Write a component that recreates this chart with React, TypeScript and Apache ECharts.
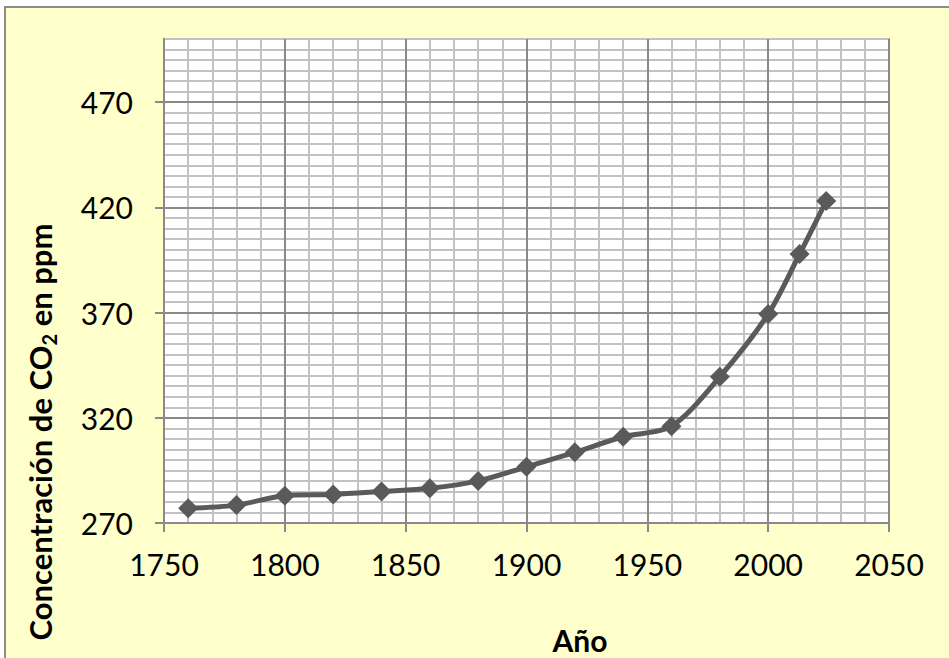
import React, { useEffect, useRef } from 'react';
import * as echarts from 'echarts';

const years = [1760, 1780, 1800, 1820, 1840, 1860, 1880, 1900, 1920, 1940, 1960, 1980, 2000, 2013, 2024];
const co2 = [277, 278.5, 283, 283.6, 285, 286.5, 290, 296.7, 303.6, 311, 316, 339.5, 369.3, 397.8, 423];
const yTickValues = [270, 320, 370, 420, 470];
const xTitle = 'Año';
const yTitleParts = ['Concentración de CO', '2', ' en ppm'];

const FONT = 'Lato, "Noto Sans", sans-serif';
const MAJOR = '#8a8a8a';
const MINOR = '#c2c2c2';

export default function App() {
  const ref = useRef<HTMLDivElement>(null);
  useEffect(() => {
    if (!ref.current) return;
    const chart = echarts.init(ref.current, null, { renderer: 'svg' });
    const data = years.map((y, i) => [y, co2[i]]);
    chart.setOption({
      animation: false,
      graphic: [
        {
          type: 'rect',
          z: -10,
          silent: true,
          shape: { x: 5, y: 7, width: 1200, height: 900 },
          style: { fill: '#FFFFCC', stroke: '#8c8c8c', lineWidth: 2 },
        },
        {
          type: 'text',
          z: 10,
          x: 580,
          y: 640,
          style: {
            text: xTitle,
            font: `bold 30px ${FONT}`,
            fill: '#000',
            align: 'center',
            verticalAlign: 'middle',
          },
        },
        {
          type: 'text',
          z: 10,
          x: 40,
          y: 432,
          rotation: Math.PI / 2,
          style: {
            text: `{a|${yTitleParts[0]}}{s|${yTitleParts[1]}}{a|${yTitleParts[2]}}`,
            align: 'center',
            verticalAlign: 'middle',
            fill: '#000',
            rich: {
              a: { fontFamily: FONT, fontWeight: 'bold', fontSize: 31, lineHeight: 38, fill: '#000' },
              s: { fontFamily: FONT, fontWeight: 'bold', fontSize: 20, lineHeight: 38, verticalAlign: 'bottom', fill: '#000', padding: [9, 0, 0, 0] },
            },
          },
        },
      ],
      grid: {
        left: 164,
        top: 39,
        width: 725,
        height: 484,
        show: true,
        backgroundColor: '#ffffff',
        borderColor: MAJOR,
        borderWidth: 2,
      },
      xAxis: [
        {
          type: 'value',
          min: 1750,
          max: 2050,
          interval: 50,
          z: 1,
          axisLine: { show: true, lineStyle: { color: MAJOR, width: 2 } },
          axisTick: { show: true, inside: false, length: 9, lineStyle: { color: MAJOR, width: 2 } },
          axisLabel: { color: '#000', fontFamily: FONT, fontSize: 30, margin: 26, formatter: (v: number) => String(v) },
          splitLine: { show: true, lineStyle: { color: MAJOR, width: 2 } },
        },
        {
          type: 'value',
          min: 1750,
          max: 2050,
          interval: 10,
          z: 0,
          position: 'bottom',
          axisLine: { show: false },
          axisTick: { show: false },
          axisLabel: { show: false },
          splitLine: { show: true, lineStyle: { color: MINOR, width: 2 } },
        },
      ],
      yAxis: [
        {
          type: 'value',
          min: 270,
          max: 500,
          interval: 50,
          z: 1,
          axisLine: { show: true, lineStyle: { color: MAJOR, width: 2 } },
          axisTick: { show: true, inside: false, length: 9, customValues: yTickValues, lineStyle: { color: MAJOR, width: 2 } },
          axisLabel: { color: '#000', fontFamily: FONT, fontSize: 30, margin: 31, customValues: yTickValues, formatter: (v: number) => String(v) },
          splitLine: { show: true, lineStyle: { color: MAJOR, width: 2 } },
        },
        {
          type: 'value',
          min: 270,
          max: 500,
          interval: 5,
          z: 0,
          position: 'left',
          axisLine: { show: false },
          axisTick: { show: false },
          axisLabel: { show: false },
          splitLine: { show: true, lineStyle: { color: MINOR, width: 2 } },
        },
      ],
      series: [
        {
          type: 'line',
          data,
          xAxisIndex: 0,
          yAxisIndex: 0,
          smooth: 0.3,
          symbol: 'diamond',
          symbolSize: 20,
          lineStyle: { color: '#5a5a5a', width: 5 },
          itemStyle: { color: '#5a5a5a' },
          z: 5,
        },
      ],
    });
    return () => chart.dispose();
  }, []);
  return (
    <div
      ref={ref}
      style={{ position: 'fixed', left: 0, top: 0, width: 949, height: 658, background: '#ffffff' }}
    />
  );
}
